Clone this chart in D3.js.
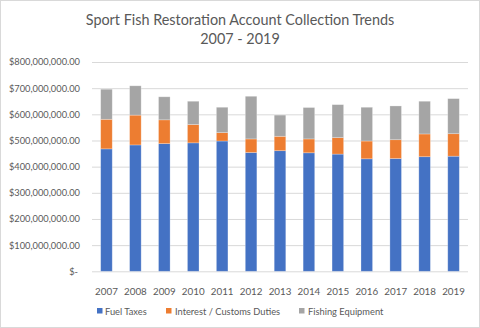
<!DOCTYPE html>
<html><head><meta charset="utf-8">
<script src="https://cdn.jsdelivr.net/npm/d3@7"></script>
<style>body{margin:0;background:#fff;}svg{display:block;font-family:Lato,sans-serif;}</style>
</head><body>
<svg id="c" width="480" height="328"></svg>
<script>
const years = ["2007","2008","2009","2010","2011","2012","2013","2014","2015","2016","2017","2018","2019"];
const fuelTaxes = [468,483,488,491,498,454,461,453,448,430,431,438,440];
const interestCustoms = [113,114,91,70,32,52,55,53,63,68,72,87,86];
const fishingEquipment = [115,112,88,89,97,163,81,120,126,129,129,125,134];
const seriesNames = ["Fuel Taxes","Interest / Customs Duties","Fishing Equipment"];
const colors = ["#4472C4","#ED7D31","#A5A5A5"];
const yTicks = [0,100,200,300,400,500,600,700,800];

const svg = d3.select("#c");
svg.append("rect").attr("x",0.5).attr("y",0.5).attr("width",479).attr("height",327)
  .attr("fill","#fff").attr("stroke","#d9d9d9");

const m = {left:92, right:468, top:62, bottom:271.3};
const x = d3.scaleBand().domain(years).range([m.left,m.right]).paddingInner(0.6).paddingOuter(0.3);
const y = d3.scaleLinear().domain([0,800]).range([m.bottom,m.top]);

const data = years.map((yr,i)=>({year:yr, a:fuelTaxes[i], b:interestCustoms[i], c:fishingEquipment[i]}));
const stack = d3.stack().keys(["a","b","c"])(data);

// gridlines
const yAxis = d3.axisLeft(y).tickValues(yTicks).tickSize(-(m.right-m.left))
  .tickFormat(d=> d===0 ? "$-" : "$"+d3.format(",")(d*1e6)+".00");
const ga = svg.append("g").attr("transform",`translate(${m.left},0)`).call(yAxis);
ga.select(".domain").remove();
ga.selectAll(".tick line").attr("stroke","#d9d9d9").attr("stroke-width",1);
ga.selectAll(".tick text").attr("x",-12).attr("fill","#595959").style("font-size","9.3px")
  .style("font-family","Lato,sans-serif");
ga.selectAll(".tick text").filter(d=>d===0).attr("x",-14);

// bars
svg.append("g").selectAll("g").data(stack).join("g").attr("fill",(d,i)=>colors[i])
  .selectAll("rect").data(d=>d).join("rect")
  .attr("x",d=>x(d.data.year)).attr("width",x.bandwidth())
  .attr("y",d=>y(d[1])).attr("height",d=>y(d[0])-y(d[1]))
  .attr("stroke","rgba(255,255,255,0.35)").attr("stroke-width",0.75);

// x axis labels
const xAxis = d3.axisBottom(x).tickSize(0).tickPadding(0);
const gx = svg.append("g").attr("transform",`translate(0,${m.bottom})`).call(xAxis);
gx.select(".domain").remove();
gx.selectAll(".tick text").attr("y",17).attr("fill","#595959").style("font-size","9.8px")
  .style("font-family","Lato,sans-serif");

// title
const t = svg.append("text").attr("text-anchor","middle").attr("fill","#595959")
  .style("font-size","14.4px").style("font-family","Lato,sans-serif");
t.append("tspan").attr("x",240).attr("y",25).text("Sport Fish Restoration Account Collection Trends");
t.append("tspan").attr("x",240).attr("y",43.5).text("2007 - 2019");

// legend
const legX = [97,166,299];
const lg = svg.append("g").selectAll("g").data(seriesNames).join("g")
  .attr("transform",(d,i)=>`translate(${legX[i]},311)`);
lg.append("rect").attr("x",0).attr("y",-3).attr("width",5.5).attr("height",5.5).attr("fill",(d,i)=>colors[i]);
lg.append("text").attr("x",(d,i)=> i===0?8:9).attr("y",3.5).attr("fill","#595959")
  .style("font-size","9.3px").text(d=>d);
</script>
</body></html>
